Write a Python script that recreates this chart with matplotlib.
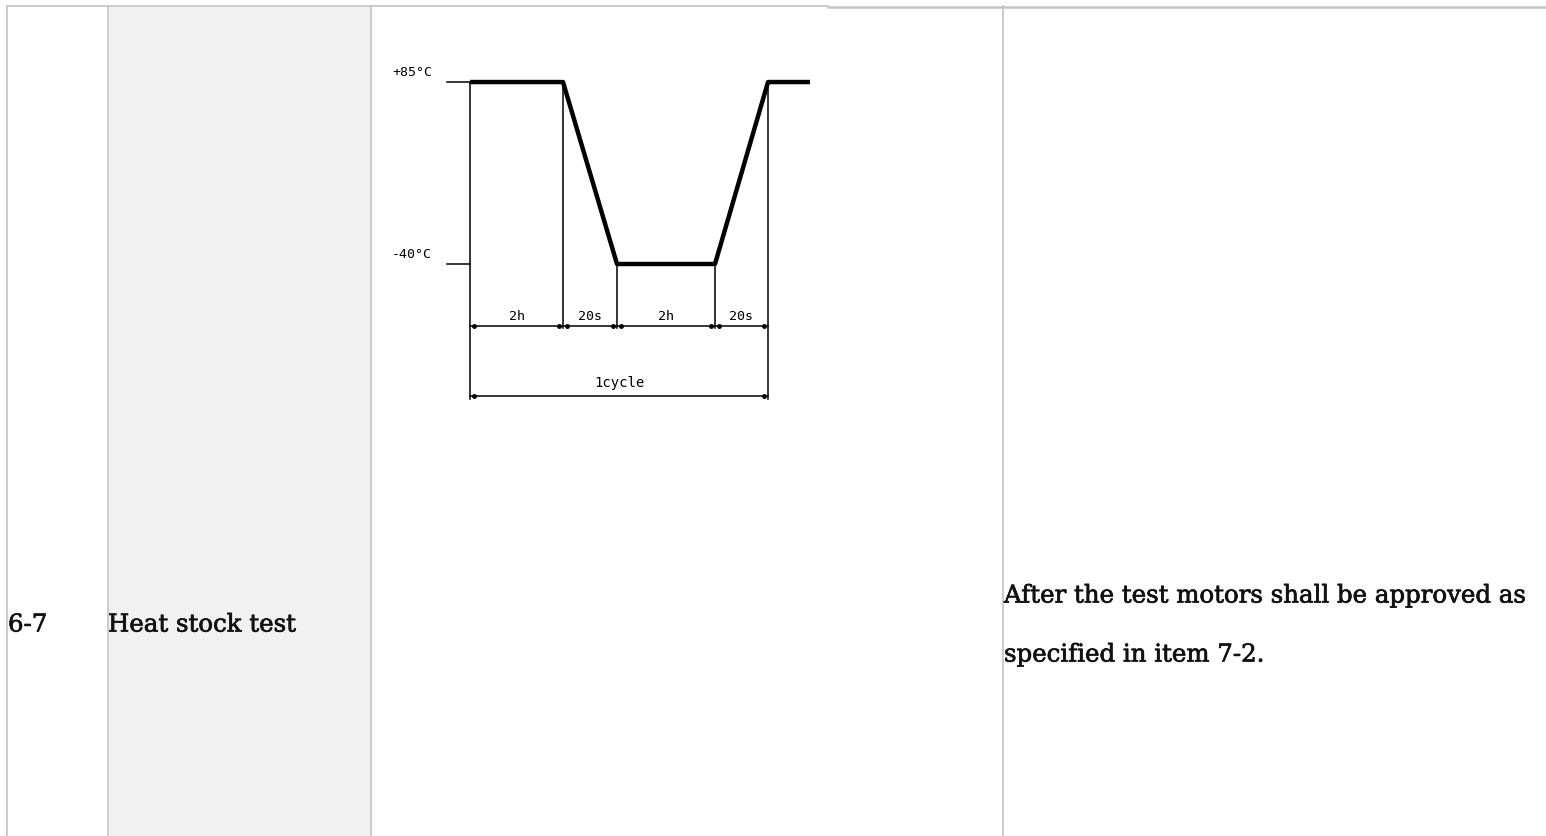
import matplotlib
matplotlib.use("Agg")
import matplotlib.pyplot as plt
import matplotlib.patheffects as pe

# table content
row_id = "6-7"
row_name = "Heat stock test"
row_result = ["After the test motors shall be approved as", "specified in item 7-2."]

# thermal cycle profile (drawing units along x, degrees C along y)
profile_x = [0, 93, 147, 245, 298, 340]
profile_temp = [85, 85, -40, -40, 85, 85]
temp_levels = [85, -40]
temp_labels = ["+85\u00b0C", "-40\u00b0C"]
seg_edges = [0, 93, 147, 245, 298]
seg_labels = ["2h", "20s", "2h", "20s"]
cycle_label = "1cycle"

W, H = 1546, 837
fig = plt.figure(figsize=(W / 100, H / 100), dpi=100)

# table in pixel coordinates
tab = fig.add_axes([0, 0, 1, 1])
tab.set_xlim(0, W)
tab.set_ylim(H, 0)
tab.axis("off")
border = "#c4c4c4"
tab.fill_between([108, 371], 7, H, color="#f1f1f1", lw=0)
tab.plot([7, 828], [7, 7], color=border, lw=1.2)
tab.plot([828, W], [7.5, 7.5], color=border, lw=1.8)
for xc in [7, 108, 371, 1003]:
    tab.plot([xc, xc], [7, H], color=border, lw=1.2)

heavy = [pe.withStroke(linewidth=0.5, foreground="#111111")]
txt = dict(family="DejaVu Serif", fontsize=17.6, color="#111111", va="center",
           path_effects=heavy)
tab.text(8, 626, row_id, **txt)
tab.text(108, 626, row_name, **txt)
tab.text(1004, 597, row_result[0], **txt)
tab.text(1004, 656, row_result[1], **txt)

# thermal cycle diagram
ax = fig.add_axes([380 / W, 1 - 410 / H, 450 / W, 360 / H])
ax.set_xlim(-90, 360)
ax.set_ylim(-139.6, 107.7)
ax.axis("off")

k = "black"
ax.plot(profile_x, profile_temp, color=k, lw=3.2, solid_capstyle="butt")
left = profile_x[0]
right = profile_x[4]
for t, lab in zip(temp_levels, temp_labels):
    ax.plot([-23, left], [t, t], color=k, lw=1.1)
    ax.text(-38, t + 7, lab, fontsize=9.5, family="DejaVu Sans Mono",
            ha="right", va="center")

dim1 = -82.5
dim2 = -131
# vertical extension lines
for xe, te in zip(profile_x[:5], profile_temp[:5]):
    bottom = dim2 - 1.5 if xe in (left, right) else dim1 - 1.5
    ax.plot([xe, xe], [te, bottom], color=k, lw=1.1)

# segment dimensions
ax.plot([left, right], [dim1, dim1], color=k, lw=1.1)
for i, lab in enumerate(seg_labels):
    a, b = seg_edges[i], (seg_edges[i + 1] if i + 1 < len(seg_edges) else right)
    ax.plot([a + 4, b - 4], [dim1, dim1], ls="none", marker="o", ms=2.5, color=k)
    ax.text((a + b) / 2, dim1 + 7, lab, fontsize=9.5, family="DejaVu Sans Mono",
            ha="center", va="center")

# full cycle dimension
ax.plot([left, right], [dim2, dim2], color=k, lw=1.1)
ax.plot([left + 4, right - 4], [dim2, dim2], ls="none", marker="o", ms=2.5, color=k)
ax.text((left + right) / 2, dim2 + 10, cycle_label, fontsize=10,
        family="DejaVu Sans Mono", ha="center", va="center")

fig.savefig("out.png", dpi=100)
